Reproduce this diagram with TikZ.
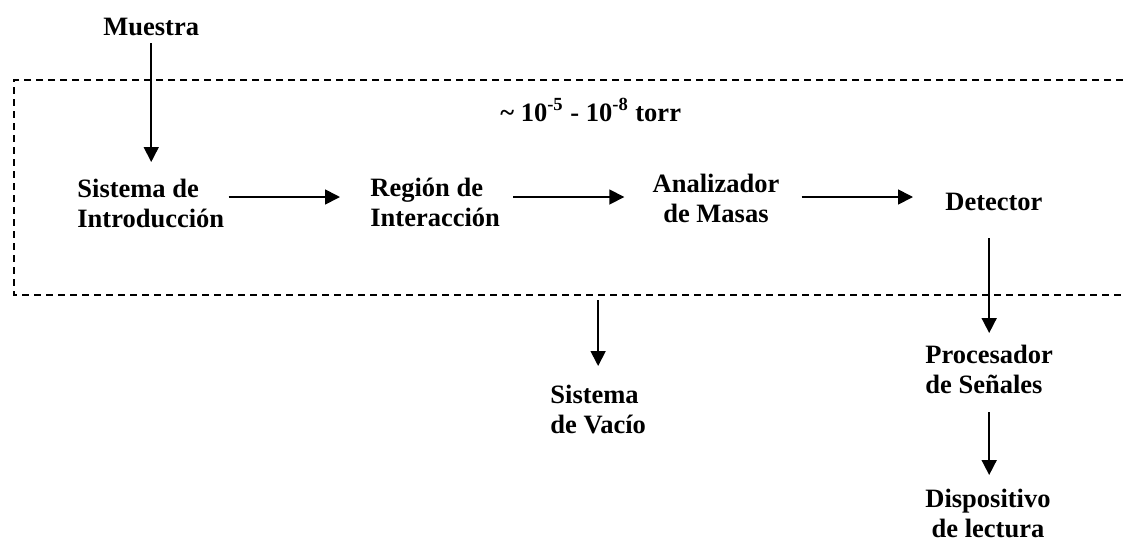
\documentclass[tikz,border=0pt]{standalone}
\usepackage{fontspec}
\setmainfont{Liberation Serif}
\usetikzlibrary{arrows.meta}
\tikzset{
  txt/.style={inner sep=0pt, align=left, font=\bfseries\fontsize{13.25pt}{15pt}\selectfont},
  line/.style={-{Triangle[length=7.5pt,width=7.5pt]}, line width=0.85pt},
  vacuum/.style={line width=0.65pt, dash pattern=on 3.5pt off 2.5pt}
}
\begin{document}
\begin{tikzpicture}[x=0.5pt, y=-0.5pt]
  \useasboundingbox (0,0) rectangle (1123,542);
  % vacuum chamber, open to the right
  \coordinate (tl) at (14,80);
  \coordinate (bl) at (14,295);
  \draw[vacuum] (1123,80) -- (tl) -- (bl) -- (1123,295);
  \coordinate (row) at (0,197);
  % base of a two-line node is its last line
  \node[txt, anchor=base west] (muestra) at (103,35) {Muestra};
  \node[txt, anchor=base west] (torr) at (500,121) {\textasciitilde{} 10\textsuperscript{-5} - 10\textsuperscript{-8} torr};
  \node[txt, anchor=base west] (intro) at (77,227) {Sistema de\\Introducción};
  \node[txt, anchor=base west] (region) at (370,226) {Región de\\Interacción};
  \node[txt, anchor=base, align=center] (analiz) at (716,222) {Analizador\\de Masas};
  \node[txt, anchor=base west] (detector) at (945,210) {Detector};
  \node[txt, anchor=base west] (vac) at (550,433) {Sistema\\de Vacío};
  \node[txt, anchor=base west] (proc) at (925,393) {Procesador\\de Señales};
  \node[txt, anchor=base, align=center] (disp) at (988,537) {Dispositivo\\de lectura};
  % connectors
  \draw[line, shorten <=4pt, shorten >=32.5pt] (muestra.base) -- (muestra.base |- intro.base);
  \draw[line, shorten <=2pt, shorten >=15pt] (intro.east |- row) -- (region.west |- row);
  \draw[line, shorten <=6.5pt, shorten >=14pt] (region.east |- row) -- (analiz.west |- row);
  \draw[line, shorten <=11pt, shorten >=16pt] (analiz.east |- row) -- (detector.west |- row);
  \draw[line, shorten <=14pt, shorten >=30pt] (proc.base |- detector.base) -- (proc.base);
  \draw[line, shorten <=9.5pt, shorten >=31pt] (proc.base) -- (proc.base |- disp.base);
  \draw[line, shorten <=2.5pt, shorten >=33.5pt] (vac.base |- bl) -- (vac.base);
\end{tikzpicture}
\end{document}
